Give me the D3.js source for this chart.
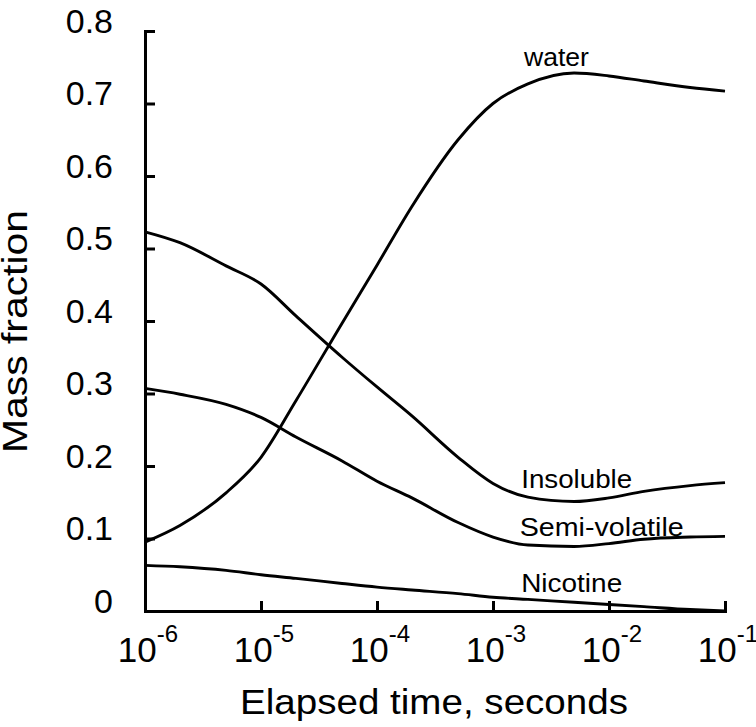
<!DOCTYPE html>
<html>
<head>
<meta charset="utf-8">
<script src="https://cdn.jsdelivr.net/npm/d3@7"></script>
<style>
  html, body { margin: 0; padding: 0; background: #fff; }
  svg { display: block; font-family: "Liberation Sans", Arial, sans-serif; }
</style>
</head>
<body>
<svg id="chart" width="756" height="727"></svg>
<script>
// ---- data ----
const times = [1e-6, 2e-6, 5e-6, 1e-5, 2e-5, 5e-5, 1e-4, 2e-4, 5e-4, 1e-3, 2e-3, 5e-3, 1e-2, 2e-2, 5e-2, 1e-1];
const water       = [0.095, 0.118, 0.163, 0.212, 0.290, 0.397, 0.477, 0.558, 0.650, 0.700, 0.727, 0.742, 0.738, 0.731, 0.722, 0.717];
const insoluble   = [0.523, 0.508, 0.476, 0.451, 0.407, 0.350, 0.309, 0.269, 0.212, 0.176, 0.157, 0.151, 0.156, 0.165, 0.173, 0.177];
const semiVolatile= [0.307, 0.299, 0.285, 0.267, 0.240, 0.207, 0.179, 0.156, 0.122, 0.102, 0.091, 0.089, 0.093, 0.099, 0.102, 0.103];
const nicotine    = [0.063, 0.061, 0.056, 0.050, 0.045, 0.038, 0.033, 0.029, 0.024, 0.019, 0.016, 0.012, 0.009, 0.006, 0.002, 0.000];
const seriesNames = ["water", "Insoluble", "Semi-volatile", "Nicotine"];
const yTicks = [0, 0.1, 0.2, 0.3, 0.4, 0.5, 0.6, 0.7, 0.8];
const yTickLabels = ["0", "0.1", "0.2", "0.3", "0.4", "0.5", "0.6", "0.7", "0.8"];
const xTicks = [1e-6, 1e-5, 1e-4, 1e-3, 1e-2, 1e-1];
const xTickExponents = ["-6", "-5", "-4", "-3", "-2", "-1"];
const xTitle = "Elapsed time, seconds";
const yTitle = "Mass fraction";
// label anchors (data units: time, mass fraction)
const labelTimes  = [1.85e-3, 1.75e-3, 1.7e-3, 1.75e-3];
const labelValues = [0.752, 0.1697, 0.1034, 0.0262];

// ---- layout ----
const svg = d3.select("#chart");
const x = d3.scaleLog().domain([1e-6, 1e-1]).range([145, 725]);
const y = d3.scaleLinear().domain([0, 0.8]).range([611, 31]);

// y axis
const yAxis = d3.axisLeft(y).tickValues(yTicks).tickSizeInner(-10).tickSizeOuter(0)
  .tickPadding(32).tickFormat((d, i) => yTickLabels[i]);
const gy = svg.append("g").attr("transform", "translate(145,0)").call(yAxis);
gy.select(".domain").attr("stroke", "#000").attr("stroke-width", 3).attr("stroke-linecap", "square");
gy.selectAll(".tick line").attr("stroke", "#000").attr("stroke-width", 3);
gy.selectAll(".tick text").attr("fill", "#000").attr("font-size", 34).attr("dy", "0.03em")
  .attr("font-family", "'Liberation Sans', Arial, sans-serif");

// x axis
const xAxis = d3.axisBottom(x).tickValues(xTicks).tickSizeInner(-10).tickSizeOuter(0).tickFormat("");
const gx = svg.append("g").attr("transform", "translate(0,611)").call(xAxis);
gx.select(".domain").attr("stroke", "#000").attr("stroke-width", 3).attr("stroke-linecap", "square");
gx.selectAll(".tick line").attr("stroke", "#000").attr("stroke-width", 3);
gx.selectAll(".tick text").remove();

const xl = svg.append("g").selectAll("text").data(xTicks).join("text")
  .attr("x", d => x(d) + 3).attr("y", 662)
  .attr("text-anchor", "middle").attr("font-size", 35).attr("fill", "#000");
xl.append("tspan").text("10");
xl.append("tspan").attr("dy", -20).attr("font-size", 24).text((d, i) => xTickExponents[i]);

// titles
svg.append("text").attr("x", 240).attr("y", 714).attr("font-size", 35)
  .attr("textLength", 388).attr("lengthAdjust", "spacingAndGlyphs").text(xTitle);
svg.append("text").attr("transform", "translate(27,453) rotate(-90)").attr("font-size", 35)
  .attr("textLength", 243).attr("lengthAdjust", "spacingAndGlyphs").text(yTitle);

// lines
const allSeries = [water, insoluble, semiVolatile, nicotine];
const line = d3.line().x(d => x(d[0])).y(d => y(d[1])).curve(d3.curveMonotoneX);
svg.append("g").selectAll("path").data(allSeries).join("path")
  .attr("d", s => line(times.map((t, i) => [t, s[i]])))
  .attr("fill", "none").attr("stroke", "#000").attr("stroke-width", 2.9);

// curve labels
const labelWidths = [65, 111, 164, 101];
svg.append("g").selectAll("text").data(seriesNames).join("text")
  .attr("x", (d, i) => x(labelTimes[i])).attr("y", (d, i) => y(labelValues[i]))
  .attr("font-size", 25).attr("fill", "#000")
  .attr("textLength", (d, i) => labelWidths[i]).attr("lengthAdjust", "spacingAndGlyphs")
  .text(d => d);
</script>
</body>
</html>
